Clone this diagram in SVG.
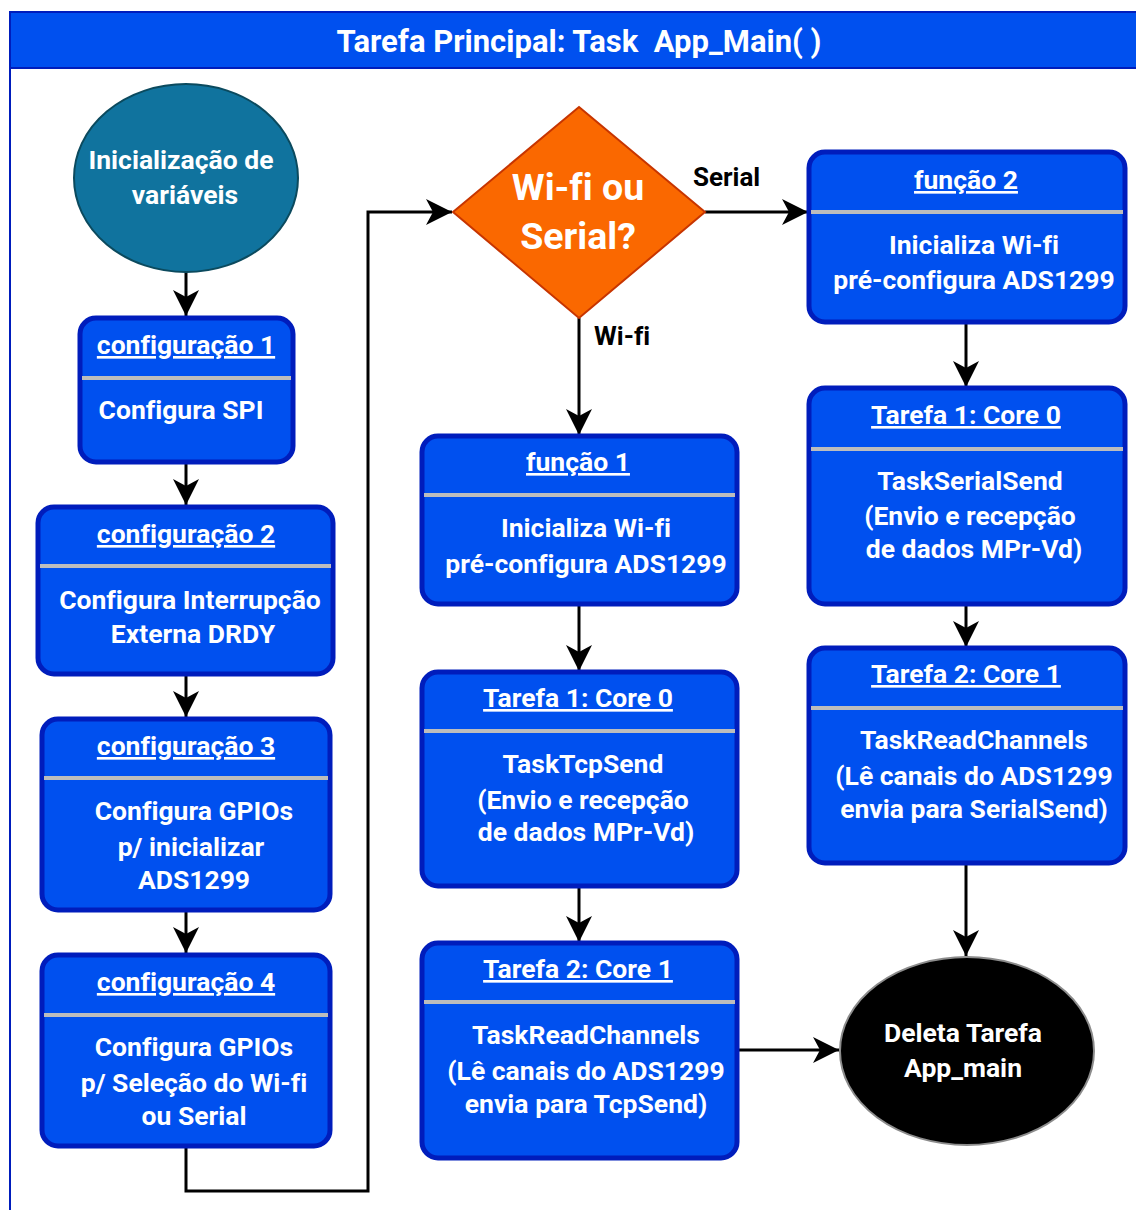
<svg xmlns="http://www.w3.org/2000/svg" width="1136" height="1210" viewBox="0 0 1136 1210">
  <style>
    text { font-variant-ligatures: none; }
    .t { font-family: Roboto, "Liberation Sans", Arial, sans-serif; font-weight: bold; fill: #ffffff; text-anchor: middle; }
    .hd { font-size: 26.5px; text-decoration: underline; }
    .bd { font-size: 26.5px; }
    .box { fill: #0050EF; stroke: #001DBC; stroke-width: 5; }
    .sep { stroke: #BDBDBD; stroke-width: 4; }
    .edge { fill: none; stroke: #000000; stroke-width: 3; }
    .lbl { font-family: Roboto, "Liberation Sans", Arial, sans-serif; font-weight: bold; font-size: 26px; fill: #000000; }
  </style>
  <defs>
    <marker id="arrow" markerUnits="userSpaceOnUse" markerWidth="28" markerHeight="28" refX="26" refY="13" orient="auto">
      <path d="M0,0 L26,13 L0,26 L7,13 Z" fill="#000000"/>
    </marker>
  </defs>

  <rect x="0" y="0" width="1136" height="1210" fill="#ffffff"/>

  <!-- frame and title bar -->
  <g id="frame">
    <rect x="10" y="12" width="1140" height="1220" fill="none" stroke="#001DBC" stroke-width="2"/>
    <rect x="10" y="12" width="1140" height="56" fill="#0050EF" stroke="#001DBC" stroke-width="2"/>
    <text class="t" x="579" y="52" font-size="31" xml:space="preserve">Tarefa Principal: Task  App_Main( )</text>
  </g>

  <!-- connectors -->
  <g id="connectors">
    <path class="edge" d="M186,272 L186,316" marker-end="url(#arrow)"/>
    <path class="edge" d="M186,462 L186,505" marker-end="url(#arrow)"/>
    <path class="edge" d="M186,674 L186,717" marker-end="url(#arrow)"/>
    <path class="edge" d="M186,910 L186,953" marker-end="url(#arrow)"/>
    <path class="edge" d="M186,1146 L186,1191 L368,1191 L368,212 L452,212" marker-end="url(#arrow)"/>
    <path class="edge" d="M705,212 L808,212" marker-end="url(#arrow)"/>
    <text class="lbl" x="693" y="186">Serial</text>
    <path class="edge" d="M579,318 L579,435" marker-end="url(#arrow)"/>
    <text class="lbl" x="594" y="345">Wi-fi</text>
    <path class="edge" d="M579,604 L579,671" marker-end="url(#arrow)"/>
    <path class="edge" d="M579,886 L579,942" marker-end="url(#arrow)"/>
    <path class="edge" d="M737,1050 L839,1050" marker-end="url(#arrow)"/>
    <path class="edge" d="M966,322 L966,387" marker-end="url(#arrow)"/>
    <path class="edge" d="M966,604 L966,647" marker-end="url(#arrow)"/>
    <path class="edge" d="M966,863 L966,956" marker-end="url(#arrow)"/>
  </g>

  <!-- start -->
  <g id="inicio">
    <ellipse cx="186" cy="178" rx="112" ry="94" fill="#10739E" stroke="#0B4A5E" stroke-width="2"/>
    <text class="t bd" x="181" y="169">Inicialização de</text>
    <text class="t bd" x="185" y="204">variáveis</text>
  </g>

  <g id="config1">
    <rect class="box" x="80" y="318" width="213" height="144" rx="16"/>
    <line class="sep" x1="82" y1="378" x2="291" y2="378"/>
    <text class="t hd" x="186" y="354">configuração 1</text>
    <text class="t bd" x="181" y="419">Configura SPI</text>
  </g>

  <g id="config2">
    <rect class="box" x="38" y="507" width="295" height="167" rx="16"/>
    <line class="sep" x1="40" y1="566" x2="331" y2="566"/>
    <text class="t hd" x="186" y="543">configuração 2</text>
    <text class="t bd" x="190" y="609">Configura Interrupção</text>
    <text class="t bd" x="193" y="643">Externa DRDY</text>
  </g>

  <g id="config3">
    <rect class="box" x="42" y="719" width="288" height="191" rx="16"/>
    <line class="sep" x1="44" y1="778" x2="328" y2="778"/>
    <text class="t hd" x="186" y="755">configuração 3</text>
    <text class="t bd" x="194" y="820">Configura GPIOs</text>
    <text class="t bd" x="191" y="856">p/ inicializar</text>
    <text class="t bd" x="194" y="889">ADS1299</text>
  </g>

  <g id="config4">
    <rect class="box" x="42" y="955" width="288" height="191" rx="16"/>
    <line class="sep" x1="44" y1="1015" x2="328" y2="1015"/>
    <text class="t hd" x="186" y="991">configuração 4</text>
    <text class="t bd" x="194" y="1056">Configura GPIOs</text>
    <text class="t bd" x="194" y="1092">p/ Seleção do Wi-fi</text>
    <text class="t bd" x="194" y="1125">ou Serial</text>
  </g>

  <g id="decisao">
    <polygon points="579,107 705,212 579,318 453,212" fill="#FA6800" stroke="#C73500" stroke-width="2"/>
    <text class="t" x="578" y="200" font-size="37.5">Wi-fi ou</text>
    <text class="t" x="578" y="249" font-size="37.5">Serial?</text>
  </g>

  <g id="funcao1">
    <rect class="box" x="422" y="436" width="315" height="168" rx="16"/>
    <line class="sep" x1="424" y1="495" x2="735" y2="495"/>
    <text class="t hd" x="578" y="471">função 1</text>
    <text class="t bd" x="586" y="537">Inicializa Wi-fi</text>
    <text class="t bd" x="586" y="573">pré-configura ADS1299</text>
  </g>

  <g id="tarefa1-tcp">
    <rect class="box" x="422" y="672" width="315" height="214" rx="16"/>
    <line class="sep" x1="424" y1="731" x2="735" y2="731"/>
    <text class="t hd" x="578" y="707">Tarefa 1: Core 0</text>
    <text class="t bd" x="583" y="773">TaskTcpSend</text>
    <text class="t bd" x="583" y="809">(Envio e recepção</text>
    <text class="t bd" x="586" y="841">de dados MPr-Vd)</text>
  </g>

  <g id="tarefa2-tcp">
    <rect class="box" x="422" y="943" width="315" height="215" rx="16"/>
    <line class="sep" x1="424" y1="1002" x2="735" y2="1002"/>
    <text class="t hd" x="578" y="978">Tarefa 2: Core 1</text>
    <text class="t bd" x="586" y="1044">TaskReadChannels</text>
    <text class="t bd" x="586" y="1080">(Lê canais do ADS1299</text>
    <text class="t bd" x="586" y="1113">envia para TcpSend)</text>
  </g>

  <g id="funcao2">
    <rect class="box" x="809" y="152" width="316" height="170" rx="16"/>
    <line class="sep" x1="811" y1="212" x2="1123" y2="212"/>
    <text class="t hd" x="966" y="189">função 2</text>
    <text class="t bd" x="974" y="254">Inicializa Wi-fi</text>
    <text class="t bd" x="974" y="289">pré-configura ADS1299</text>
  </g>

  <g id="tarefa1-serial">
    <rect class="box" x="809" y="388" width="316" height="216" rx="16"/>
    <line class="sep" x1="811" y1="449" x2="1123" y2="449"/>
    <text class="t hd" x="966" y="424">Tarefa 1: Core 0</text>
    <text class="t bd" x="970" y="490">TaskSerialSend</text>
    <text class="t bd" x="970" y="525">(Envio e recepção</text>
    <text class="t bd" x="974" y="558">de dados MPr-Vd)</text>
  </g>

  <g id="tarefa2-serial">
    <rect class="box" x="809" y="648" width="316" height="215" rx="16"/>
    <line class="sep" x1="811" y1="708" x2="1123" y2="708"/>
    <text class="t hd" x="966" y="683">Tarefa 2: Core 1</text>
    <text class="t bd" x="974" y="749">TaskReadChannels</text>
    <text class="t bd" x="974" y="785">(Lê canais do ADS1299</text>
    <text class="t bd" x="974" y="818">envia para SerialSend)</text>
  </g>

  <g id="fim">
    <ellipse cx="967" cy="1051" rx="127" ry="94" fill="#000000" stroke="#8C8C8C" stroke-width="2"/>
    <text class="t bd" x="963" y="1042">Deleta Tarefa</text>
    <text class="t bd" x="963" y="1077">App_main</text>
  </g>
</svg>
